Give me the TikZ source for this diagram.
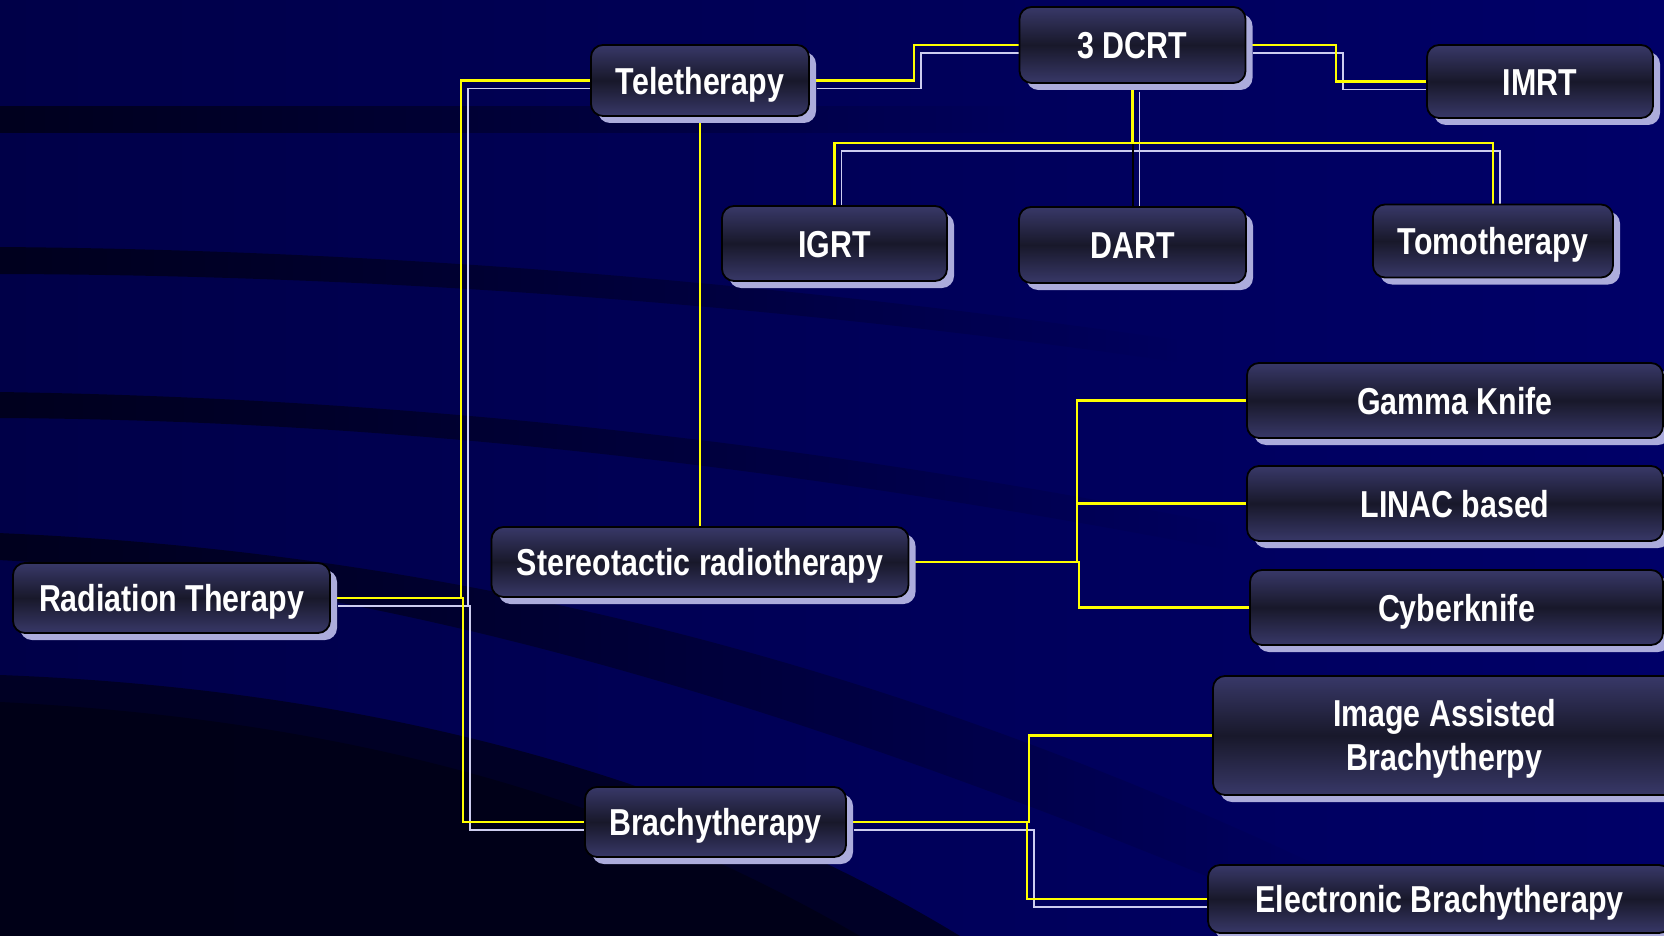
\documentclass[tikz,border=0pt]{standalone}
\usepackage{fontspec}
\usetikzlibrary{shadows,fadings}
\newfontfamily\boxfontfam{Liberation Sans}[FakeStretch=0.81]
\newcommand\boxfont{\boxfontfam\bfseries\fontsize{37.5}{44}\selectfont}
\definecolor{bgL}{RGB}{0,0,72}
\definecolor{bgR}{RGB}{0,0,104}
\definecolor{bandc}{RGB}{0,0,30}
\definecolor{nodeL}{RGB}{56,56,104}
\definecolor{nodeD}{RGB}{24,24,42}
\definecolor{shadc}{RGB}{172,172,220}
\definecolor{yel}{RGB}{255,255,0}
\definecolor{shl}{RGB}{205,205,240}
\tikzfading[name=fadeR, left color=transparent!0, right color=transparent!100]
\pgfdeclarelayer{bgl}
\pgfdeclarelayer{edges}
\pgfsetlayers{bgl,edges,main}
\tikzset{
  box/.style={rectangle, rounded corners=12pt, draw=black, line width=1.8pt,
    top color=nodeL, bottom color=nodeL, middle color=nodeD,
    drop shadow={shadow xshift=7pt, shadow yshift=-7pt, fill=shadc, opacity=1},
    text=white, font=\boxfont, inner sep=0pt, align=center},
  one/.style={text height=35pt, text depth=7.6pt},
  yline/.style={draw=yel, line width=2.2pt},
  bline/.style={draw=black, line width=2pt},
  shline/.style={draw=shl, line width=1.6pt, transform canvas={xshift=7pt,yshift=-8pt}},
  band/.style={fill=bandc, path fading=fadeR}
}
\begin{document}
\begin{tikzpicture}[x=1pt,y=-1pt]
\useasboundingbox (0,0) rectangle (1664,936);
\clip (0,0) rectangle (1664,936);
% nodes
\node[box, one, minimum width=317pt, minimum height=70pt] (rt) at (171.5,598) {Radiation Therapy};
\node[box, one, minimum width=218pt, minimum height=71pt] (tele) at (700,80.5) {Teletherapy};
\node[box, one, minimum width=226pt, minimum height=76pt] (dcrt) at (1132.5,45) {3 DCRT};
\node[box, one, minimum width=226pt, minimum height=73pt] (imrt) at (1540,81.5) {IMRT};
\node[box, one, minimum width=225pt, minimum height=75pt] (igrt) at (834.5,243.5) {IGRT};
\node[box, one, minimum width=227pt, minimum height=76pt] (dart) at (1132.5,245) {DART};
\node[box, one, minimum width=240pt, minimum height=73pt] (tomo) at (1493,241) {Tomotherapy};
\node[box, one, minimum width=416pt, minimum height=75pt] (gamma) at (1455,400.5) {Gamma Knife};
\node[box, one, minimum width=416pt, minimum height=75pt] (linac) at (1455,503.5) {LINAC based};
\node[box, one, minimum width=413pt, minimum height=75pt] (cyber) at (1456.5,607.5) {Cyberknife};
\node[box, minimum width=463pt, minimum height=119pt] (ia) at (1444.5,735.5) {\raisebox{-4.5pt}[\height][\depth]{\begin{tabular}{@{}c@{}}Image Assisted\\Brachytherpy\end{tabular}}};
\node[box, one, minimum width=463pt, minimum height=68pt] (eb) at (1439.5,899) {Electronic Brachytherapy};
\node[box, one, minimum width=417pt, minimum height=70pt] (st) at (700,562) {Stereotactic radiotherapy};
\node[box, one, minimum width=261pt, minimum height=70pt] (br) at (715.5,822) {Brachytherapy};
% junction coordinates
\coordinate (x1) at (461,0);
\coordinate (x2) at (463,0);
\coordinate (x3) at (914,0);
\coordinate (x4) at (1336,0);
\coordinate (y5) at (0,143);
\coordinate (x6) at (1077,0);
\coordinate (x6b) at (1079,0);
\coordinate (x7) at (1029,0);
\coordinate (x7b) at (1027,0);
\begin{pgfonlayer}{bgl}
  \fill[left color=bgL, right color=bgR] (0,0) rectangle (1664,936);
  \fill[band] (0,106) rectangle (1020,133);
  \fill[band] (0,247) .. controls (400,250) and (800,285) .. (1180,340) -- (1180,362) .. controls (800,307) and (400,275) .. (0,274) -- cycle;
  \fill[band] (0,392) .. controls (400,398) and (800,440) .. (1230,525) -- (1230,550) .. controls (800,468) and (400,420) .. (0,418) -- cycle;
  \fill[band] (0,533) .. controls (400,550) and (850,640) .. (1350,880) -- (1350,936) .. controls (850,720) and (400,580) .. (0,560) -- cycle;
  \fill[bandc, opacity=0.85] (0,675) .. controls (400,690) and (720,790) .. (960,936) -- (0,936) -- cycle;
  \fill[black, opacity=0.35] (0,702) .. controls (400,722) and (660,820) .. (860,936) -- (0,936) -- cycle;
\end{pgfonlayer}
\begin{pgfonlayer}{edges}
  % shadow lines
  \draw[shline] (rt.east) -- (rt.east -| x1) |- (tele.west);
  \draw[shline] (rt.east) -- (rt.east -| x2) |- (br.west);
  \draw[shline] (tele.east) -- (tele.east -| x3) |- (dcrt.west);
  \draw[shline] (dcrt.east) -- (dcrt.east -| x4) |- (imrt.west);
  \draw[shline] (dcrt.south) -- (dart.north);
  \draw[shline] (dcrt.south) -- (dcrt.south |- y5) -| (igrt.north);
  \draw[shline] (dcrt.south) -- (dcrt.south |- y5) -| (tomo.north);
  \draw[shline] (br.east) -- (br.east -| x7b) |- (eb.west);
  % main lines
  \draw[bline] (dcrt.south) -- (dart.north);
  \draw[yline] (rt.east) -- (rt.east -| x1) |- (tele.west);
  \draw[yline] (rt.east) -- (rt.east -| x2) |- (br.west);
  \draw[yline] (tele.east) -- (tele.east -| x3) |- (dcrt.west);
  \draw[yline] (dcrt.east) -- (dcrt.east -| x4) |- (imrt.west);
  \draw[yline] (dcrt.south) -- (dcrt.south |- y5) -| (igrt.north);
  \draw[yline] (dcrt.south) -- (dcrt.south |- y5) -| (tomo.north);
  \draw[yline] (tele.south) -- (st.north);
  \draw[yline] (st.east) -- (st.east -| x6) |- (gamma.west);
  \draw[yline] (st.east) -- (st.east -| x6) |- (linac.west);
  \draw[yline] (st.east) -- (st.east -| x6b) |- (cyber.west);
  \draw[yline] (br.east) -- (br.east -| x7) |- (ia.west);
  \draw[yline] (br.east) -- (br.east -| x7b) |- (eb.west);
\end{pgfonlayer}
\end{tikzpicture}
\end{document}
